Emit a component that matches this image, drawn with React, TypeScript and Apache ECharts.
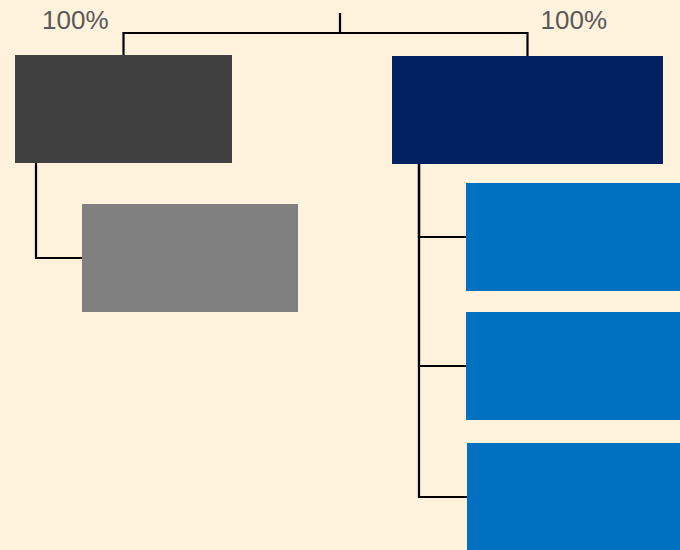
import React, { useEffect, useRef } from "react";
import * as echarts from "echarts";

// ---- structure / values ----
const nodeNames = ["Group A", "Group B", "A-1", "B-1", "B-2", "B-3"];
const nodeParents = [-1, -1, 0, 1, 1, 1];
const nodeShares = ["100%", "100%", "", "", "", ""];
const nodeKinds = ["dark", "navy", "grey", "blue", "blue", "blue"];

// ---- styles ----
const KIND_COLORS: Record<string, string> = {
  dark: "#404040",
  navy: "#002060",
  grey: "#808080",
  blue: "#0070C0",
};
const BG = "#FFF2DD";
const LINE = "#000000";
const LABEL_COLOR = "#595959";

// ---- layout (chart units; axes span 0..680 x 0..550) ----
const ROOT = { x: 340, top: 13, bar: 33 };
const BOXES = [
  { x: 15, y: 55, w: 217, h: 108, stem: 21, labelSide: "left", labelGap: 15 },
  { x: 392, y: 56, w: 271, h: 108, stem: 27, labelSide: "right", labelGap: 13 },
  { x: 82, y: 204, w: 216, h: 108, stem: 21 },
  { x: 466, y: 183, w: 216, h: 108, stem: 21 },
  { x: 466, y: 312, w: 216, h: 108, stem: 21 },
  { x: 467, y: 443, w: 216, h: 108, stem: 21 },
];

export default function App() {
  const ref = useRef<HTMLDivElement>(null);
  useEffect(() => {
    if (!ref.current) return;
    const chart = echarts.init(ref.current, undefined, { renderer: "svg" });
    const data: number[][] = [[-1, 0], ...nodeNames.map((_, i) => [i, 0])];
    const renderItem = (params: any, api: any) => {
      const i = api.value(0);
      const c = (p: number[]) => api.coord(p);
      const lineStyle = { stroke: LINE, lineWidth: 2.2, fill: null };
      if (i < 0) {
        const p1 = c([ROOT.x, ROOT.top]);
        const p2 = c([ROOT.x, ROOT.bar]);
        return {
          type: "line",
          shape: { x1: p1[0], y1: p1[1], x2: p2[0], y2: p2[1] },
          style: { stroke: LINE, lineWidth: 2.2 },
        };
      }
      const b: any = BOXES[i];
      const tl = c([b.x, b.y]);
      const br = c([b.x + b.w, b.y + b.h]);
      const children: any[] = [];
      const parent = nodeParents[i];
      if (parent < 0) {
        const cx = b.x + b.w / 2;
        const pts = [c([cx, b.y]), c([cx, ROOT.bar]), c([ROOT.x, ROOT.bar])];
        children.push({ type: "polyline", shape: { points: pts }, style: lineStyle });
        if (nodeShares[i]) {
          const left = b.labelSide === "left";
          const tp = c([left ? cx - b.labelGap : cx + b.labelGap, 19.5]);
          children.push({
            type: "text",
            x: tp[0],
            y: tp[1],
            style: {
              text: nodeShares[i],
              fill: LABEL_COLOR,
              fontSize: 26,
              fontFamily: "Liberation Sans, Arial, sans-serif",
              align: left ? "right" : "left",
              verticalAlign: "middle",
            },
          });
        }
      } else {
        const p: any = BOXES[parent];
        const sx = p.x + p.stem;
        const cy = b.y + b.h / 2;
        const pts = [c([sx, p.y + p.h]), c([sx, cy]), c([b.x, cy])];
        children.push({ type: "polyline", shape: { points: pts }, style: lineStyle });
      }
      children.push({
        type: "rect",
        shape: { x: tl[0], y: tl[1], width: br[0] - tl[0], height: br[1] - tl[1] },
        style: { fill: KIND_COLORS[nodeKinds[i]] },
      });
      return { type: "group", children };
    };
    chart.setOption({
      animation: false,
      backgroundColor: BG,
      grid: { left: 0, right: 0, top: 0, bottom: 0 },
      xAxis: { type: "value", min: 0, max: 680, show: false },
      yAxis: { type: "value", min: 0, max: 550, inverse: true, show: false },
      tooltip: { show: false },
      series: [
        {
          type: "custom",
          renderItem,
          clip: false,
          data,
          silent: true,
        },
      ],
    });
    return () => chart.dispose();
  }, []);
  return (
    <div
      style={{
        position: "fixed",
        left: 0,
        top: 0,
        width: 680,
        height: 550,
        overflow: "hidden",
      }}
    >
      <div ref={ref} style={{ width: 680, height: 550 }} />
    </div>
  );
}
